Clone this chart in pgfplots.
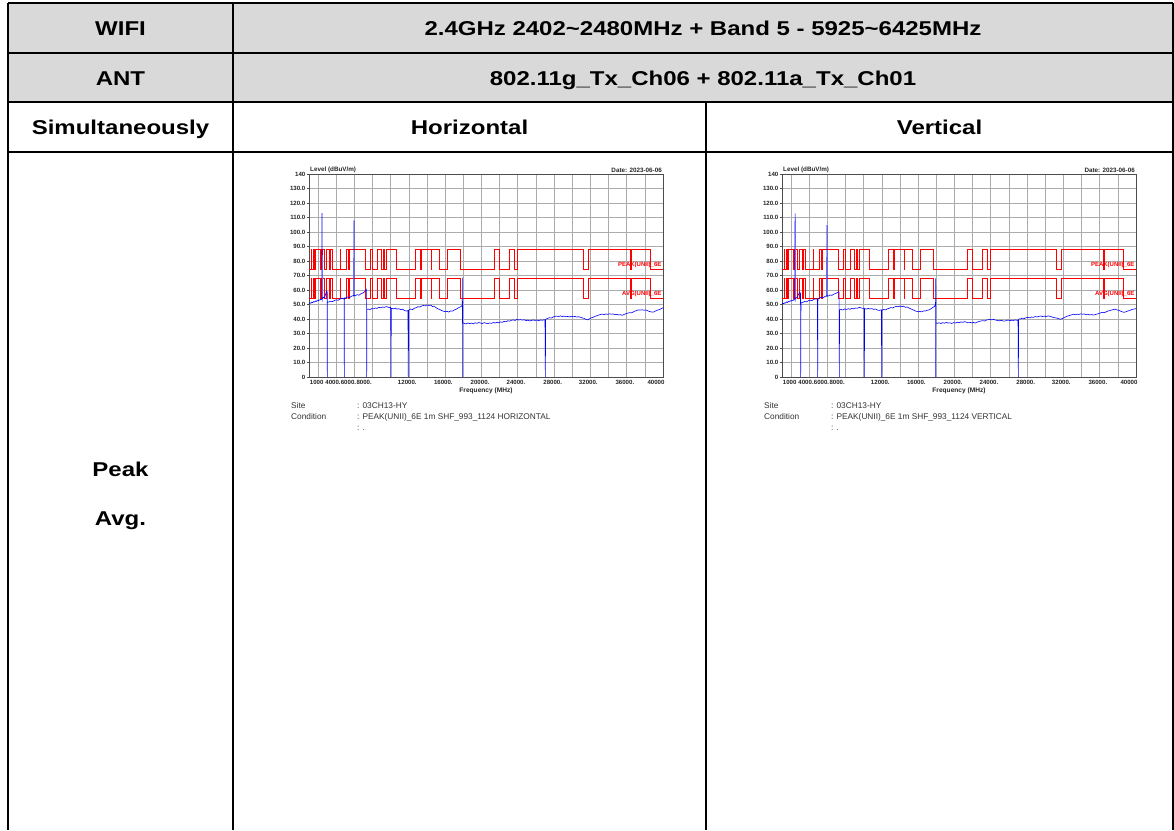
\documentclass[border=0pt]{standalone}
\usepackage{pgfplots}
\pgfplotsset{compat=1.18}
\usepackage{pgfplotstable}
\usepackage{fontspec}
\setmainfont{Liberation Sans}

% restricted-band limit lines (value holds from x to next x)
\pgfplotstableread{
x pk av
1000 74 54
1240 88.2 68.2
1300 74 54
1427 88.2 68.2
1435 74 54
1626.5 88.2 68.2
1645.5 74 54
1646.5 88.2 68.2
1660 74 54
1710 88.2 68.2
1718.8 74 54
1722.2 88.2 68.2
2200 74 54
2300 88.2 68.2
2310 74 54
2390 88.2 68.2
2483.5 74 54
2500 88.2 68.2
2690 74 54
2900 88.2 68.2
3260 74 54
3267 88.2 68.2
3332 74 54
3339 88.2 68.2
3345.8 74 54
3358 88.2 68.2
3600 74 54
4400 88.2 68.2
4500 74 54
5150 88.2 68.2
5350 74 54
5460 88.2 68.2
7250 74 54
7750 88.2 68.2
8025 74 54
8500 88.2 68.2
9000 74 54
9200 88.2 68.2
9300 74 54
9500 88.2 68.2
10600 74 54
12700 88.2 68.2
13250 74 54
13400 88.2 68.2
14470 74 54
14500 88.2 68.2
15350 74 54
16200 88.2 68.2
17700 74 54
21400 88.2 68.2
22010 74 54
23120 88.2 68.2
23600 74 54
24000 88.2 68.2
31200 74 54
31800 88.2 68.2
36430 74 54
36500 88.2 68.2
38600 74 54
40000 74 54
}\limits

\pgfplotstableread{
x y
1000 50.6
1100 51.2
1200 50.8
1300 51.6
1400 51.3
1500 52.0
1600 51.7
1700 52.4
1800 52.1
1900 52.8
2000 52.5
2100 53.2
2200 53.0
2300 53.6
2400 53.4
2430 54.5
2437 113.0
2444 55.0
2500 54.2
2600 55.0
2700 54.6
2800 56.5
2900 58.5
2950 59.2
3000 58.8
3010 58.0
3016 0
3022 51.5
3200 51.8
3400 52.3
3600 52.0
3800 52.8
4000 53.2
4200 52.9
4400 53.7
4600 54.2
4800 54.0
4880 54.5
4890 0
4900 53.8
5100 54.8
5300 55.2
5500 54.9
5700 55.8
5900 56.2
5950 56.0
5955 108.0
5960 56.5
6100 56.0
6300 56.8
6500 56.4
6700 57.3
6900 57.8
7100 58.6
7250 59.8
7300 60.5
7340 59.5
7355 0
7370 46.5
7500 46.9
7700 46.4
7900 47.2
8100 47.0
8300 47.6
8500 47.3
8700 48.1
8900 47.7
9100 48.3
9300 48.0
9500 48.6
9700 48.2
9900 47.8
10000 48.0
10034 0
10070 47.4
10300 47.0
10500 47.5
10700 46.8
10900 47.1
11100 46.5
11300 46.8
11500 45.9
11700 45.5
11900 45.8
11940 0
11980 46.2
12200 46.9
12400 46.5
12600 47.4
12800 47.8
13000 48.5
13200 48.2
13400 48.9
13600 49.4
13800 49.0
14000 49.7
14200 49.3
14400 49.6
14600 48.6
14800 48.9
15000 47.8
15200 47.0
15400 46.6
15600 45.9
15800 45.4
16000 45.0
16200 45.3
16400 44.8
16600 45.6
16800 45.4
17000 46.2
17200 46.7
17400 47.5
17600 48.2
17800 48.8
17870 49.5
17890 55.0
17895 0
17900 68.5
17905 52.0
17920 37.2
18100 37.0
18300 36.6
18500 37.3
18700 36.8
18900 37.2
19100 36.7
19300 37.4
19500 37.0
19700 37.6
19900 37.2
20100 36.9
20300 37.5
20500 37.1
20700 36.8
20900 37.3
21100 37.0
21300 37.6
21500 37.2
21700 37.8
21900 37.4
22100 38.0
22300 37.7
22500 38.4
22700 38.1
22900 38.8
23100 38.5
23300 39.1
23500 39.4
23700 39.0
23900 39.7
24100 39.3
24300 39.6
24500 39.2
24700 39.5
24900 38.9
25100 39.2
25300 38.7
25500 38.9
25700 39.4
25900 39.0
26100 39.3
26300 38.8
26500 39.4
26700 39.1
26900 39.5
27000 39.3
27037 0
27070 39.8
27300 40.5
27500 40.9
27700 40.6
27900 41.4
28100 41.8
28300 42.0
28500 41.6
28700 42.2
28900 41.7
29100 42.0
29300 41.5
29500 41.8
29700 41.4
29900 41.9
30100 41.5
30300 41.8
30500 41.3
30700 41.6
30900 41.2
31100 40.8
31300 40.4
31500 39.8
31700 39.4
31900 40.2
32100 40.8
32300 41.2
32500 41.8
32700 42.2
32900 42.7
33100 43.1
33300 43.4
33500 43.0
33700 43.5
33900 43.2
34100 43.6
34300 43.3
34500 43.5
34700 43.0
34900 43.2
35100 42.8
35300 43.0
35500 42.6
35700 43.1
35900 43.6
36100 44.0
36300 44.4
36500 44.2
36700 44.8
36900 45.4
37100 45.9
37300 46.3
37500 46.1
37700 46.4
37900 46.0
38100 46.3
38300 45.7
38500 45.2
38700 44.9
38900 44.7
39100 45.3
39300 45.9
39500 46.3
39700 46.8
39900 47.4
40000 47.8
}\traceH

\pgfplotstableread{
x y
1000 50.3
1100 50.9
1200 50.5
1300 51.2
1400 51.0
1500 51.8
1600 51.4
1700 52.1
1800 51.9
1900 52.6
2000 52.3
2100 53.0
2200 52.7
2300 53.4
2400 53.2
2430 54.2
2437 112.8
2444 54.8
2500 54.0
2600 54.9
2700 55.3
2800 56.8
2900 57.9
2960 58.4
3040 57.6
3057 0
3090 51.2
3300 51.5
3500 52.1
3700 51.8
3900 52.6
4100 53.0
4300 52.7
4500 53.5
4700 53.9
4900 53.6
4929 0
4960 53.8
5150 54.6
5350 55.0
5550 54.7
5750 55.6
5900 55.9
5950 55.7
5955 104.8
5960 56.2
6100 55.8
6300 56.6
6500 56.3
6700 57.1
6900 57.6
7100 58.2
7250 58.8
7290 58.3
7316 0
7340 46.3
7500 46.6
7700 46.2
7900 46.9
8100 46.6
8300 47.1
8500 46.7
8700 47.3
8900 47.0
9100 47.6
9300 47.4
9500 48.0
9700 47.7
9900 47.3
10050 47.5
10071 0
10100 47.2
10300 46.8
10500 47.3
10700 46.9
10900 47.2
11100 46.6
11300 46.9
11500 46.2
11700 45.9
11950 46.3
11980 0
12010 46.0
12200 46.6
12400 46.3
12600 47.0
12800 47.4
13000 47.9
13200 47.6
13400 48.3
13600 48.7
13800 48.4
14000 49.0
14200 48.6
14400 48.8
14600 48.0
14800 48.3
15000 47.5
15200 47.0
15400 46.5
15600 45.8
15800 45.3
16000 45.0
16200 45.2
16400 44.9
16600 45.6
16800 45.5
17000 46.0
17200 46.3
17400 47.0
17600 47.9
17800 48.7
17900 50.2
17920 52.0
17925 0
17930 68.0
17935 51.0
17950 37.3
18100 37.0
18300 37.4
18500 36.9
18700 37.5
18900 37.1
19100 37.6
19300 37.2
19500 37.4
19700 36.9
19900 37.5
20100 37.2
20300 37.8
20500 37.4
20700 38.0
20900 37.7
21100 38.2
21300 37.8
21500 37.4
21700 37.7
21900 37.3
22100 37.6
22300 37.2
22500 37.8
22700 38.3
22900 38.6
23100 38.9
23300 38.6
23500 39.2
23700 39.5
23900 39.8
24100 39.4
24300 39.7
24500 39.3
24700 39.0
24900 38.7
25100 39.1
25300 38.8
25500 38.5
25700 38.9
25900 39.3
26100 38.9
26300 39.2
26500 39.0
26700 39.4
26900 39.1
27000 39.3
27037 0
27070 39.9
27300 40.2
27500 40.6
27700 40.3
27900 40.9
28100 41.2
28300 40.8
28500 41.4
28700 41.1
28900 41.7
29100 41.4
29300 41.8
29500 42.1
29700 41.7
29900 42.0
30100 41.6
30300 42.2
30500 41.9
30700 41.5
30900 41.1
31100 40.8
31300 40.6
31500 40.2
31700 39.8
31900 40.4
32100 41.0
32300 41.6
32500 42.1
32700 42.5
32900 42.9
33100 43.3
33300 42.9
33500 43.4
33700 43.1
33900 43.6
34100 43.3
34300 43.5
34500 43.0
34700 43.3
34900 42.8
35100 43.1
35300 42.7
35500 43.0
35700 43.4
35900 43.8
36100 44.2
36300 44.6
36500 44.3
36700 44.9
36900 45.5
37100 45.8
37300 46.2
37500 46.5
37700 46.8
37900 46.3
38100 46.0
38300 45.4
38500 44.9
38700 44.6
38900 45.0
39100 45.5
39300 45.9
39500 46.4
39700 46.8
39900 47.0
40000 47.2
}\traceV

\pgfplotsset{emcchart/.style={
  scale only axis, width=354pt, height=203pt,
  xmin=1000, xmax=40000, ymin=0, ymax=140,
  clip mode=individual,
  scaled x ticks=false, scaled y ticks=false,
  axis line style={draw=black!70, line width=0.8pt},
  ytick={0,10,...,140},
  yticklabels={0,10.0,20.0,30.0,40.0,50.0,60.0,70.0,80.0,90.0,100.0,110.0,120.0,130.0,140},
  xtick={1850,3650,5350,7080,11830,15800,19840,23800,27850,31770,35800,39230},
  xticklabels={1000,4000.,6000.,8000.,12000.,16000.,20000.,24000.,28000.,32000.,36000.,40000},
  minor xtick={2000,4000,...,38000},
  ytick pos=left, xtick pos=bottom,
  xminorgrids=true, ymajorgrids=true, xmajorgrids=false,
  grid style={draw=black!33, line width=0.7pt},
  minor grid style={draw=black!33, line width=0.7pt},
  tick align=outside, major tick length=2.5pt, minor tick length=0pt,
  xtick style={draw=none}, ytick style={draw=black!70, line width=0.5pt},
  tick label style={font=\fontsize{6.1}{7}\selectfont\bfseries, text=black!85},
  yticklabel style={inner sep=1pt},
  xticklabel style={inner sep=1pt},
  /pgf/number format/assume math mode=true,
  xlabel={Frequency (MHz)},
  xlabel style={font=\fontsize{6.6}{7}\selectfont\bfseries, text=black!85,
    at={(axis description cs:0.5,0)}, anchor=north, yshift=-10.5pt, inner sep=0pt},
}}

\newcommand{\hd}[1]{\scalebox{1.2}[1.0]{#1}}

\begin{document}
\begin{tikzpicture}
\useasboundingbox (0pt,0pt) rectangle (1174pt,-830pt);
\fill[white] (0pt,0pt) rectangle (1174pt,-830pt);
% table
\fill[black!15] (8pt,-3pt) rectangle (1173pt,-102pt);
\begin{scope}[line width=1.8pt, black]
\draw (8pt,-3pt) -- (1173pt,-3pt);
\draw (8pt,-53pt) -- (1173pt,-53pt);
\draw (8pt,-102pt) -- (1173pt,-102pt);
\draw (8pt,-152pt) -- (1173pt,-152pt);
\draw (8pt,-3pt) -- (8pt,-830pt);
\draw (233pt,-3pt) -- (233pt,-830pt);
\draw (1173pt,-3pt) -- (1173pt,-830pt);
\draw (706pt,-102pt) -- (706pt,-830pt);
\end{scope}
\begin{scope}[every node/.style={font=\fontsize{20}{24}\selectfont\bfseries, anchor=base, inner sep=0pt}]
\node at (120.5pt,-35.5pt) {\hd{WIFI}};
\node at (703pt,-35.5pt) {\hd{2.4GHz 2402\textasciitilde 2480MHz + Band 5 - 5925\textasciitilde 6425MHz}};
\node at (120.5pt,-85pt) {\hd{ANT}};
\node at (703pt,-85pt) {\hd{802.11g\_Tx\_Ch06 + 802.11a\_Tx\_Ch01}};
\node at (120.5pt,-134.5pt) {\hd{Simultaneously}};
\node at (469.5pt,-134.5pt) {\hd{Horizontal}};
\node at (939.5pt,-134.5pt) {\hd{Vertical}};
\node at (120.5pt,-476pt) {\hd{Peak}};
\node at (120.5pt,-525pt) {\hd{Avg.}};
\end{scope}

% Horizontal chart
\begin{axis}[emcchart, at={(309pt,-377pt)}, anchor=south west]
\addplot[red, line width=0.6pt, const plot mark left, forget plot] table[x=x, y=pk] {\limits};
\addplot[red, line width=0.6pt, const plot mark left, forget plot] table[x=x, y=av] {\limits};
\addplot[blue!35, line width=1pt] coordinates {(2440,52) (2440,84)};
\addplot[blue!35, line width=1pt] coordinates {(5900,55) (5900,82)};
\addplot[blue, line width=0.6pt] table[x=x, y=y] {\traceH};
\node[anchor=south east, inner sep=1pt, text=red, font=\fontsize{6}{7}\selectfont\bfseries] at (axis cs:39950,74.5) {PEAK(UNII)\_6E};
\node[anchor=south east, inner sep=1pt, text=red, font=\fontsize{6}{7}\selectfont\bfseries] at (axis cs:39950,54.5) {AVG(UNII)\_6E};
\node[anchor=south west, inner sep=1pt, text=black!85, font=\fontsize{6.3}{7}\selectfont\bfseries] at (rel axis cs:0,1) {Level (dBuV/m)};
\node[anchor=south east, inner sep=1pt, text=black!85, font=\fontsize{6.3}{7}\selectfont\bfseries] at (rel axis cs:1,1) {Date: 2023-06-06};
\end{axis}

% Vertical chart
\begin{axis}[emcchart, at={(782pt,-377pt)}, anchor=south west]
\addplot[red, line width=0.6pt, const plot mark left, forget plot] table[x=x, y=pk] {\limits};
\addplot[red, line width=0.6pt, const plot mark left, forget plot] table[x=x, y=av] {\limits};
\addplot[blue!35, line width=1pt] coordinates {(2480,52) (2480,110)};
\addplot[blue!35, line width=1pt] coordinates {(5900,55) (5900,83)};
\addplot[blue, line width=0.6pt] table[x=x, y=y] {\traceV};
\node[anchor=south east, inner sep=1pt, text=red, font=\fontsize{6}{7}\selectfont\bfseries] at (axis cs:39950,74.5) {PEAK(UNII)\_6E};
\node[anchor=south east, inner sep=1pt, text=red, font=\fontsize{6}{7}\selectfont\bfseries] at (axis cs:39950,54.5) {AVG(UNII)\_6E};
\node[anchor=south west, inner sep=1pt, text=black!85, font=\fontsize{6.3}{7}\selectfont\bfseries] at (rel axis cs:0,1) {Level (dBuV/m)};
\node[anchor=south east, inner sep=1pt, text=black!85, font=\fontsize{6.3}{7}\selectfont\bfseries] at (rel axis cs:1,1) {Date: 2023-06-06};
\end{axis}

% info text below charts
\begin{scope}[every node/.style={font=\fontsize{8.3}{9}\selectfont, text=black!80, anchor=base west, inner sep=0pt}]
\node at (291pt,-408pt) {Site};
\node at (357pt,-408pt) {: 03CH13-HY};
\node at (291pt,-419pt) {Condition};
\node at (357pt,-419pt) {: PEAK(UNII)\_6E 1m SHF\_993\_1124 HORIZONTAL};
\node at (357pt,-430pt) {: .};
\node at (764pt,-408pt) {Site};
\node at (831pt,-408pt) {: 03CH13-HY};
\node at (764pt,-419pt) {Condition};
\node at (831pt,-419pt) {: PEAK(UNII)\_6E 1m SHF\_993\_1124 VERTICAL};
\node at (831pt,-430pt) {: .};
\end{scope}
\end{tikzpicture}
\end{document}
